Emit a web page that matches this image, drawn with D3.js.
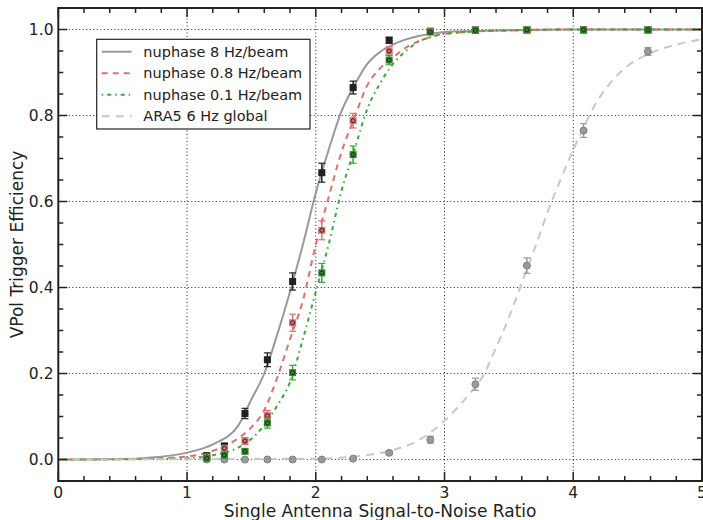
<!DOCTYPE html>
<html>
<head>
<meta charset="utf-8">
<script src="https://cdn.jsdelivr.net/npm/d3@7"></script>
<style>
  body { margin: 0; background: #fff; }
  svg text { font-family: "DejaVu Sans", sans-serif; fill: #222; }
</style>
</head>
<body>
<div id="chart"></div>
<script>
// measured points
var snr = [1.153, 1.29, 1.45, 1.624, 1.82, 2.047, 2.29, 2.57, 2.89, 3.24, 3.64, 4.08, 4.58];
var eff8 = [0.009, 0.031, 0.107, 0.232, 0.414, 0.667, 0.865, 0.975, 0.996, 0.999, 0.999, 0.999, 0.999];
var eff08 = [0.006, 0.026, 0.043, 0.102, 0.318, 0.533, 0.788, 0.950, 0.996, 0.998, 0.999, 0.999, 0.999];
var eff01 = [0.003, 0.010, 0.019, 0.085, 0.202, 0.434, 0.709, 0.929, 0.994, 0.998, 0.999, 0.999, 0.999];
var effAra = [0, 0, 0, 0, 0, 0, 0.002, 0.0155, 0.046, 0.175, 0.451, 0.765, 0.949];
var err8 = [0.005, 0.007, 0.012, 0.016, 0.02, 0.022, 0.015, 0.007, 0.003, 0.002, 0.002, 0.002, 0.002];
var err08 = [0.003, 0.006, 0.008, 0.012, 0.02, 0.022, 0.017, 0.01, 0.003, 0.002, 0.002, 0.002, 0.002];
var err01 = [0.002, 0.004, 0.005, 0.012, 0.017, 0.022, 0.02, 0.011, 0.004, 0.002, 0.002, 0.002, 0.002];
var errAra = [0.001, 0.001, 0.001, 0.001, 0.001, 0.001, 0.002, 0.004, 0.008, 0.014, 0.018, 0.016, 0.009];
var xErr = 0.025;

// fitted curves
var fitX = [0, 0.5, 0.7, 1.0, 1.2, 1.4, 1.5, 1.6, 1.7, 1.8, 1.9, 2.0, 2.1, 2.2, 2.3, 2.4, 2.5, 2.6, 2.7, 2.8, 2.9, 3.0, 3.5, 4.0, 5.0];
var fit8 = [0, 0.001, 0.004, 0.016, 0.035, 0.08, 0.14, 0.2, 0.29, 0.39, 0.5, 0.62, 0.72, 0.81, 0.87, 0.92, 0.948, 0.965, 0.977, 0.985, 0.99, 0.994, 0.998, 1.0, 1.0];
var fit08 = [0, 0.0005, 0.002, 0.007, 0.02, 0.05, 0.075, 0.115, 0.19, 0.28, 0.37, 0.5, 0.61, 0.715, 0.795, 0.87, 0.91, 0.935, 0.958, 0.973, 0.983, 0.99, 0.998, 1.0, 1.0];
var fit01 = [0, 0.0003, 0.001, 0.003, 0.01, 0.028, 0.048, 0.08, 0.125, 0.18, 0.28, 0.39, 0.5, 0.625, 0.72, 0.815, 0.875, 0.92, 0.95, 0.972, 0.983, 0.99, 0.998, 1.0, 1.0];
var araX = [0, 2.0, 2.3, 2.6, 2.8, 3.0, 3.2, 3.3, 3.4, 3.5, 3.6, 3.7, 3.8, 3.9, 4.0, 4.1, 4.2, 4.3, 4.4, 4.6, 4.8, 5.0];
var araFit = [0, 0.002, 0.007, 0.022, 0.045, 0.09, 0.155, 0.195, 0.26, 0.33, 0.41, 0.49, 0.575, 0.65, 0.72, 0.785, 0.84, 0.88, 0.91, 0.945, 0.965, 0.977];

var labels = ["nuphase 8 Hz/beam", "nuphase 0.8 Hz/beam", "nuphase 0.1 Hz/beam", "ARA5 6 Hz global"];
var xTicks = [0, 1, 2, 3, 4, 5];
var yTicks = [0, 0.2, 0.4, 0.6, 0.8, 1.0];

var W = 703, H = 520;
var pL = 58.3, pR = 702, pT = 8, pB = 481;

var svg = d3.select("#chart").append("svg").attr("width", W).attr("height", H);

var x = d3.scaleLinear().domain([0, 5]).range([pL, pR]);
var y = d3.scaleLinear().domain([-0.05, 1.05]).range([pB, pT]);

// grid
var grid = svg.append("g").attr("stroke", "#222").attr("stroke-width", 1).attr("stroke-dasharray", "1,2.5");
grid.selectAll(".gx").data(xTicks.slice(1, -1)).enter().append("line")
  .attr("x1", d => x(d)).attr("x2", d => x(d)).attr("y1", pT).attr("y2", pB);
grid.selectAll(".gy").data(yTicks).enter().append("line")
  .attr("y1", d => y(d)).attr("y2", d => y(d)).attr("x1", pL).attr("x2", pR);

var series = [
  {fx: fitX, fy: fit8, px: snr, py: eff8, e: err8, color: "#999999", dash: null, mark: "#222", kind: "black"},
  {fx: fitX, fy: fit08, px: snr, py: eff08, e: err08, color: "#e07070", dash: "6,5", mark: "#e07070", kind: "red"},
  {fx: fitX, fy: fit01, px: snr, py: eff01, e: err01, color: "#3aa83a", dash: "1.5,4,4,4", mark: "#2a8a2a", kind: "green"},
  {fx: araX, fy: araFit, px: snr, py: effAra, e: errAra, color: "#c8c8c8", dash: "8,6", mark: "#999", kind: "gray"}
];

var line = d3.line().curve(d3.curveMonotoneX).x(d => x(d[0])).y(d => y(d[1]));

var plot = svg.append("g");
series.forEach(function(s) {
  plot.append("path")
    .datum(d3.zip(s.fx, s.fy))
    .attr("d", line)
    .attr("fill", "none")
    .attr("stroke", s.color)
    .attr("stroke-width", 2)
    .attr("stroke-dasharray", s.dash);
});

// points with error bars, ARA first so nuphase sits on top
[series[3], series[0], series[1], series[2]].forEach(function(s) {
  var ec = s.kind == "black" ? "#222" : (s.kind == "gray" ? "#999" : s.color);
  var g = plot.append("g");
  var pts = d3.range(s.px.length).map(i => ({x: s.px[i], y: s.py[i], e: s.e[i]}));
  var pg = g.selectAll("g").data(pts).enter().append("g");
  pg.append("line").attr("x1", d => x(d.x)).attr("x2", d => x(d.x))
    .attr("y1", d => y(d.y - d.e)).attr("y2", d => y(d.y + d.e))
    .attr("stroke", ec).attr("stroke-width", 1.5);
  [-1, 1].forEach(function(sg) {
    pg.append("line").attr("x1", d => x(d.x) - 3.5).attr("x2", d => x(d.x) + 3.5)
      .attr("y1", d => y(d.y + sg * d.e)).attr("y2", d => y(d.y + sg * d.e))
      .attr("stroke", ec).attr("stroke-width", 1.2);
  });
  pg.append("line").attr("x1", d => x(d.x - xErr)).attr("x2", d => x(d.x + xErr))
    .attr("y1", d => y(d.y)).attr("y2", d => y(d.y))
    .attr("stroke", ec).attr("stroke-width", 1.5);
  if (s.kind == "gray") {
    pg.append("circle").attr("cx", d => x(d.x)).attr("cy", d => y(d.y)).attr("r", 3.5)
      .attr("fill", "#999").attr("stroke", "#808080").attr("stroke-width", 1);
  } else {
    pg.append("rect").attr("x", d => x(d.x) - 3.5).attr("y", d => y(d.y) - 3.5)
      .attr("width", 7).attr("height", 7).attr("fill", s.mark);
    if (s.kind != "black") {
      pg.append("circle").attr("cx", d => x(d.x)).attr("cy", d => y(d.y)).attr("r", 2)
        .attr("fill", "none").attr("stroke", "#222").attr("stroke-width", 1);
    }
  }
});

// frame and ticks
svg.append("rect").attr("x", pL).attr("y", pT).attr("width", pR - pL).attr("height", pB - pT)
  .attr("fill", "none").attr("stroke", "#222").attr("stroke-width", 2);

var ticks = svg.append("g").attr("stroke", "#222").attr("stroke-width", 1.5);
var xMinor = d3.range(0, 5.001, 0.2);
var yMinor = d3.range(-0.05, 1.051, 0.05);
xMinor.forEach(function(v) {
  var major = Math.abs(v - Math.round(v)) < 1e-6;
  var len = major ? 9 : 5;
  ticks.append("line").attr("x1", x(v)).attr("x2", x(v)).attr("y1", pB).attr("y2", pB - len);
  ticks.append("line").attr("x1", x(v)).attr("x2", x(v)).attr("y1", pT).attr("y2", pT + len);
});
yMinor.forEach(function(v) {
  var major = Math.abs(v * 5 - Math.round(v * 5)) < 1e-6;
  var len = major ? 9 : 5;
  ticks.append("line").attr("y1", y(v)).attr("y2", y(v)).attr("x1", pL).attr("x2", pL + len);
  ticks.append("line").attr("y1", y(v)).attr("y2", y(v)).attr("x1", pR).attr("x2", pR - len);
});

svg.append("g").selectAll("text").data(xTicks).enter().append("text")
  .attr("x", d => x(d)).attr("y", 498).attr("text-anchor", "middle")
  .style("font-size", "15.5px").text(d => d);
svg.append("g").selectAll("text").data(yTicks).enter().append("text")
  .attr("x", 53.5).attr("y", d => y(d)).attr("dy", "0.36em").attr("text-anchor", "end")
  .style("font-size", "15.5px").text(d => d3.format(".1f")(d));

svg.append("text").attr("x", x(2.5)).attr("y", 517).attr("text-anchor", "middle")
  .style("font-size", "17px").text("Single Antenna Signal-to-Noise Ratio");
svg.append("text").attr("transform", "translate(23," + y(0.5) + ") rotate(-90)")
  .attr("text-anchor", "middle").style("font-size", "17px").text("VPol Trigger Efficiency");

// legend
var lg = svg.append("g");
lg.append("rect").attr("x", 96.7).attr("y", 39.3).attr("width", 213.3).attr("height", 89.7)
  .attr("fill", "#fff").attr("stroke", "#222").attr("stroke-width", 1.2);
series.forEach(function(s, i) {
  var ly = 51.7 + i * 21.5;
  lg.append("line").attr("x1", 101.7).attr("x2", 131.7).attr("y1", ly).attr("y2", ly)
    .attr("stroke", s.color).attr("stroke-width", 2).attr("stroke-dasharray", s.dash);
  lg.append("text").attr("x", 143.3).attr("y", ly).attr("dy", "0.36em")
    .style("font-size", "14.5px").text(labels[i]);
});
</script>
</body>
</html>
